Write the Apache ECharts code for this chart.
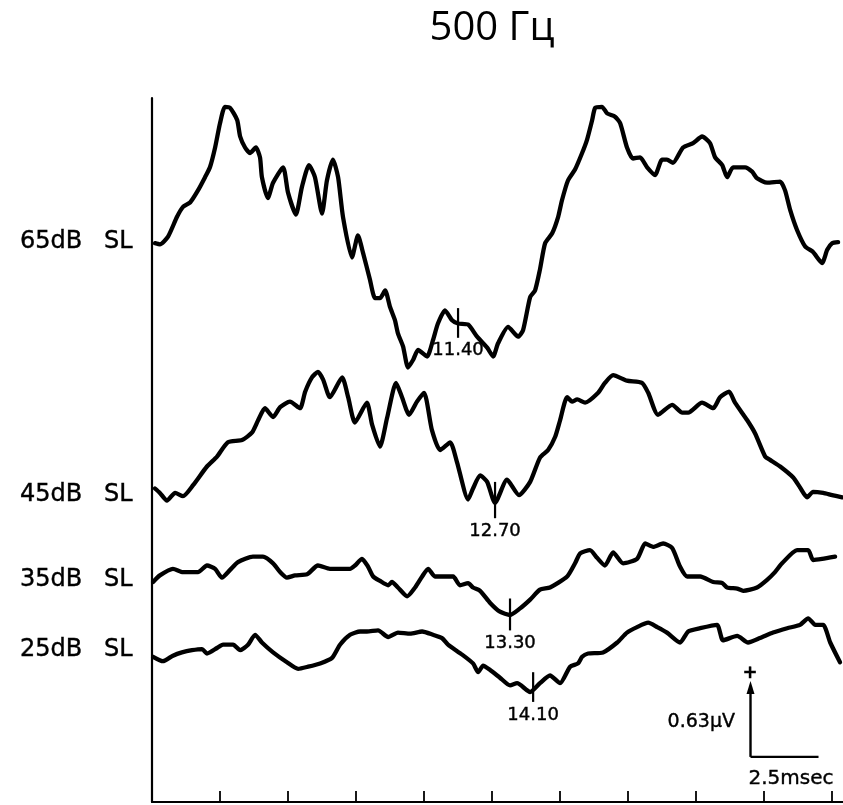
<!DOCTYPE html>
<html><head><meta charset="utf-8">
<script src="https://cdn.jsdelivr.net/npm/echarts@6/dist/echarts.min.js"></script>
<style>html,body{margin:0;padding:0;background:#fff}#c{width:843px;height:805px}</style>
</head><body><div id="c"></div>
<script>
// ---- data (time in msec, amplitude in µV) ----
const titleText = '500 Гц';
const levelNames = ['65dB', '45dB', '35dB', '25dB'];
const levelUnit = 'SL';
const xTicks = [0, 2.5, 5, 7.5, 10, 12.5, 15, 17.5, 20, 22.5, 25];

const trace65 = [[0.11,5.08],[0.29,5.07],[0.59,5.14],[0.92,5.32],[1.14,5.41],[1.40,5.45],[1.69,5.56],[1.95,5.68],[2.13,5.77],[2.32,5.95],[2.50,6.17],[2.68,6.32],[2.87,6.31],[3.13,6.20],[3.24,6.05],[3.42,5.95],[3.60,5.90],[3.82,5.95],[3.97,5.86],[4.04,5.68],[4.26,5.49],[4.45,5.63],[4.82,5.77],[5.00,5.54],[5.29,5.34],[5.51,5.59],[5.77,5.79],[5.99,5.68],[6.25,5.35],[6.43,5.65],[6.65,5.84],[6.84,5.68],[7.02,5.32],[7.35,4.95],[7.57,5.15],[7.76,4.99],[8.01,4.75],[8.20,4.58],[8.38,4.58],[8.57,4.65],[8.75,4.50],[8.93,4.38],[9.04,4.26],[9.23,4.14],[9.41,3.95],[9.60,4.02],[9.78,4.11],[10.11,4.05],[10.33,4.20],[10.51,4.35],[10.77,4.47],[11.03,4.38],[11.25,4.35],[11.62,4.34],[11.95,4.23],[12.32,4.13],[12.54,4.05],[12.72,4.17],[13.09,4.32],[13.46,4.23],[13.64,4.29],[13.90,4.59],[14.08,4.65],[14.26,4.84],[14.45,5.08],[14.71,5.17],[14.93,5.32],[15.07,5.47],[15.29,5.65],[15.55,5.75],[15.81,5.90],[15.99,6.02],[16.18,6.20],[16.29,6.31],[16.54,6.32],[16.73,6.26],[17.02,6.23],[17.21,6.17],[17.46,5.95],[17.68,5.85],[17.94,5.86],[18.20,5.77],[18.49,5.70],[18.75,5.84],[18.93,5.84],[19.15,5.81],[19.52,5.95],[19.89,5.99],[20.22,6.05],[20.51,5.99],[20.70,5.86],[20.96,5.79],[21.14,5.68],[21.36,5.77],[21.80,5.77],[22.06,5.73],[22.24,5.67],[22.61,5.63],[23.09,5.64],[23.27,5.56],[23.46,5.38],[23.71,5.20],[24.01,5.05],[24.30,5.00],[24.63,4.90],[24.82,5.02],[25.00,5.08],[25.22,5.09]];

const trace45 = [[0.11,2.85],[0.29,2.81],[0.55,2.74],[0.85,2.81],[1.14,2.78],[1.51,2.88],[2.02,3.05],[2.39,3.14],[2.79,3.27],[3.31,3.29],[3.68,3.36],[3.90,3.47],[4.15,3.58],[4.45,3.50],[4.71,3.59],[5.07,3.64],[5.44,3.58],[5.63,3.73],[5.88,3.86],[6.10,3.91],[6.29,3.84],[6.54,3.68],[6.99,3.86],[7.21,3.68],[7.46,3.45],[7.90,3.63],[8.09,3.43],[8.38,3.23],[8.64,3.49],[8.97,3.81],[9.19,3.68],[9.45,3.52],[9.74,3.64],[10.00,3.72],[10.29,3.38],[10.59,3.20],[10.96,3.27],[11.21,3.09],[11.62,2.75],[11.80,2.85],[12.06,2.97],[12.32,2.91],[12.61,2.72],[13.05,2.93],[13.49,2.79],[13.90,2.91],[14.26,3.13],[14.56,3.20],[14.82,3.32],[15.00,3.47],[15.26,3.68],[15.44,3.64],[15.63,3.66],[15.92,3.63],[16.40,3.72],[16.65,3.81],[16.95,3.88],[17.46,3.83],[18.01,3.81],[18.24,3.72],[18.60,3.52],[19.12,3.61],[19.49,3.54],[19.71,3.54],[20.22,3.63],[20.63,3.58],[20.88,3.68],[21.21,3.73],[21.43,3.63],[21.88,3.47],[22.17,3.35],[22.54,3.14],[22.72,3.11],[23.09,3.05],[23.57,2.95],[23.82,2.86],[24.08,2.77],[24.30,2.82],[24.67,2.81],[25.00,2.79],[25.37,2.77]];

const trace35 = [[0.04,2.00],[0.29,2.06],[0.77,2.12],[1.14,2.09],[1.69,2.09],[2.02,2.15],[2.32,2.12],[2.57,2.04],[2.87,2.11],[3.16,2.18],[3.71,2.23],[4.08,2.23],[4.45,2.17],[4.71,2.09],[4.96,2.04],[5.26,2.06],[5.70,2.07],[6.10,2.15],[6.54,2.12],[7.28,2.12],[7.46,2.15],[7.72,2.21],[7.94,2.14],[8.13,2.05],[8.38,2.01],[8.68,1.97],[8.82,2.00],[9.04,1.95],[9.38,1.87],[9.67,1.95],[9.93,2.05],[10.15,2.12],[10.40,2.05],[10.70,2.05],[11.07,2.05],[11.32,1.97],[11.62,1.99],[11.80,1.95],[12.06,1.92],[12.43,1.81],[12.79,1.73],[13.16,1.70],[13.53,1.76],[13.90,1.84],[14.26,1.93],[14.63,1.95],[15.26,2.05],[15.55,2.17],[15.74,2.26],[16.10,2.29],[16.36,2.22],[16.65,2.15],[16.95,2.27],[17.32,2.17],[17.83,2.21],[18.13,2.35],[18.42,2.32],[18.79,2.35],[19.12,2.31],[19.41,2.14],[19.67,2.05],[20.15,2.05],[20.63,2.00],[20.96,1.99],[21.14,1.95],[21.51,1.94],[21.73,1.92],[22.24,1.95],[22.61,2.02],[22.90,2.09],[23.16,2.17],[23.71,2.29],[24.12,2.29],[24.30,2.20],[24.63,2.21],[25.11,2.23]];

const trace25 = [[0.04,1.32],[0.40,1.28],[0.77,1.33],[1.10,1.36],[1.47,1.38],[1.84,1.39],[2.02,1.35],[2.39,1.40],[2.61,1.43],[2.98,1.43],[3.24,1.38],[3.53,1.43],[3.79,1.52],[4.04,1.45],[4.45,1.36],[4.96,1.27],[5.37,1.21],[5.74,1.23],[6.18,1.26],[6.62,1.31],[6.91,1.43],[7.28,1.52],[7.65,1.55],[7.90,1.55],[8.31,1.56],[8.68,1.50],[9.04,1.54],[9.49,1.53],[9.93,1.55],[10.33,1.52],[10.66,1.49],[10.88,1.43],[11.40,1.34],[11.80,1.26],[11.99,1.18],[12.17,1.24],[12.43,1.20],[12.79,1.13],[13.16,1.06],[13.42,1.08],[13.90,1.00],[14.26,1.08],[14.63,1.15],[15.00,1.08],[15.37,1.23],[15.66,1.26],[15.81,1.32],[16.03,1.35],[16.58,1.36],[17.10,1.45],[17.46,1.54],[17.83,1.59],[18.24,1.63],[18.57,1.59],[18.93,1.54],[19.41,1.45],[19.71,1.55],[20.15,1.58],[20.77,1.61],[20.99,1.47],[21.51,1.51],[21.91,1.45],[22.35,1.49],[22.83,1.54],[23.35,1.58],[23.82,1.61],[24.12,1.67],[24.38,1.61],[24.67,1.61],[24.93,1.45],[25.29,1.27]];

// latency markers (position, vertical extent of the tick, printed latency)
const latencyX = [11.25, 12.61, 13.16, 14.01];
const latencyTop = [4.49, 2.91, 1.85, 1.18];
const latencyBottom = [4.22, 2.58, 1.56, 0.91];
const latencyText = ['11.40', '12.70', '13.30', '14.10'];

// calibration bar
const calX = 22.0, calY = 0.41, calDx = 2.5, calDy = 0.63;
const calTextV = '0.63μV', calTextH = '2.5msec';

// ---- chart ----
const chart = echarts.init(document.getElementById('c'), null, {renderer: 'canvas'});
const traceStyle = {color: '#000', width: 4.3, join: 'round', cap: 'round'};
const traces = [trace65, trace45, trace35, trace25];
const series = [];
traces.forEach(t => series.push({
  type: 'line', data: t, symbol: 'none', showSymbol: false, smooth: 0.2,
  clip: false, silent: true, lineStyle: traceStyle
}));
latencyX.forEach((x, i) => series.push({
  type: 'line', data: [[x, latencyTop[i]], [x, latencyBottom[i]]], symbol: 'none',
  clip: false, silent: true, lineStyle: {color: '#000', width: 2.2}
}));
series.push({
  type: 'scatter', silent: true, symbolSize: 0, itemStyle: {color: '#000', opacity: 1},
  data: latencyX.map((x, i) => ({value: [x, latencyBottom[i]], name: latencyText[i]})),
  label: {show: true, position: 'bottom', distance: 4, formatter: p => p.name, opacity: 1,
    color: '#000', fontSize: 18, fontFamily: 'DejaVu Sans', textBorderColor: '#000', textBorderWidth: 0.4}
});
series.push({
  type: 'line', silent: true, clip: false, showSymbol: true,
  data: [{value: [calX, calY], symbol: 'none'},
         {value: [calX, calY + calDy], symbol: 'triangle', symbolSize: [8, 13]}],
  itemStyle: {color: '#000'}, lineStyle: {color: '#000', width: 2.4}
});
series.push({
  type: 'line', silent: true, clip: false, symbol: 'none',
  data: [[calX, calY], [calX + calDx, calY]],
  lineStyle: {color: '#000', width: 2.4}
});

const txt = (text, x, y, align, font) => ({type: 'text', style: {text, x, y, align, verticalAlign: 'middle',
  font, fill: '#000', stroke: '#000', lineWidth: 0.4}});
const graphics = [
  {type: 'text', style: {text: titleText, x: 492, y: 29, align: 'center', verticalAlign: 'middle',
    font: '40px "Open Sans"', fill: '#000'}},
  txt('+', 750, 673, 'center', 'bold 18px "DejaVu Sans"'),
  txt(calTextV, 735, 722, 'right', '19px "DejaVu Sans"'),
  txt(calTextH, 791, 779, 'center', '20px "DejaVu Sans"')
];
const levelY = [242, 495, 580, 650];
levelNames.forEach((n, i) => {
  graphics.push(txt(n, 20, levelY[i], 'left', '24px "DejaVu Sans"'));
  graphics.push(txt(levelUnit, 104, levelY[i], 'left', '24px "DejaVu Sans"'));
});

chart.setOption({
  animation: false,
  backgroundColor: '#fff',
  grid: {left: 152, right: 0, top: 98, bottom: 3, containLabel: false},
  xAxis: {type: 'value', min: 0, max: 25.4, interval: 2.5,
    axisLine: {show: true, lineStyle: {color: '#000', width: 2.2}},
    axisTick: {show: true, inside: true, length: 11, customValues: xTicks, lineStyle: {color: '#000', width: 1.8}},
    axisLabel: {show: false}, splitLine: {show: false}},
  yAxis: {type: 'value', min: 0, max: 6.4,
    axisLine: {show: true, lineStyle: {color: '#000', width: 2.2}},
    axisTick: {show: false}, axisLabel: {show: false}, splitLine: {show: false}},
  graphic: graphics,
  series: series
});
</script></body></html>
